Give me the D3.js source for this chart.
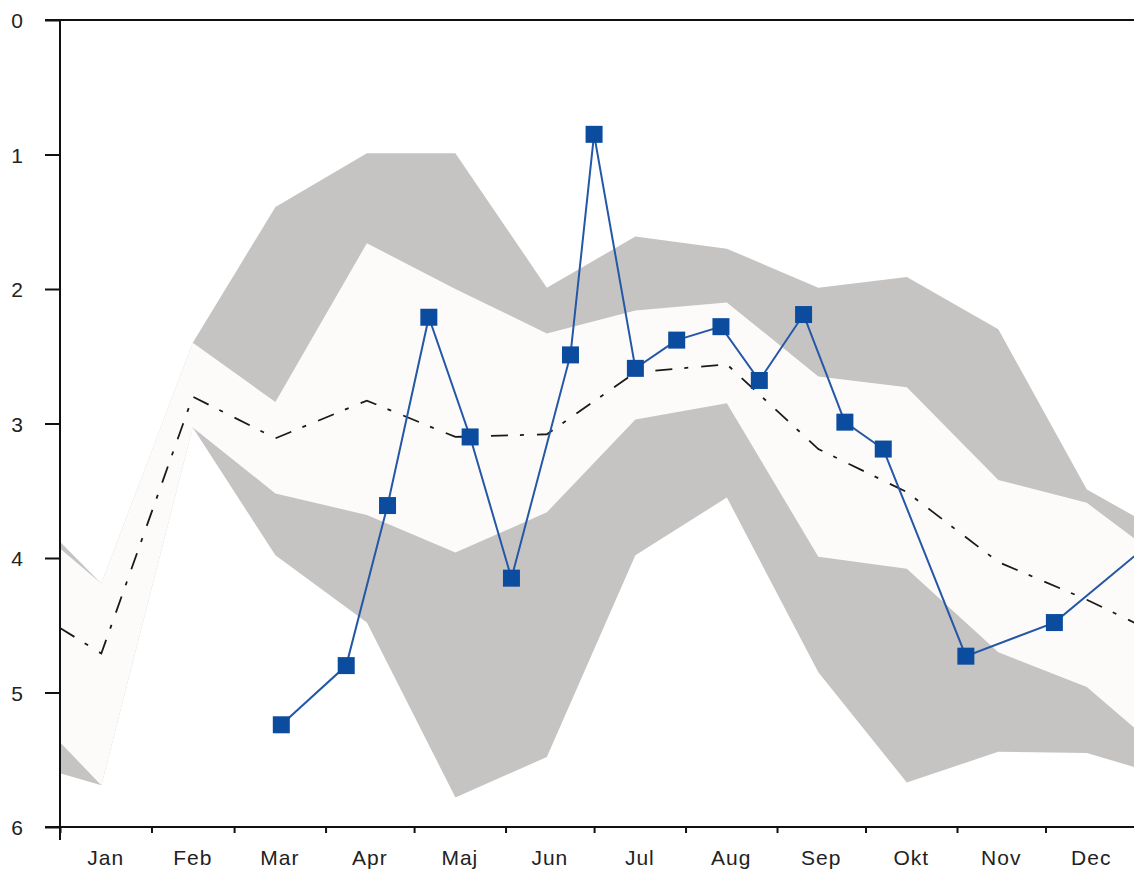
<!DOCTYPE html>
<html>
<head>
<meta charset="utf-8">
<script src="https://cdn.jsdelivr.net/npm/d3@7"></script>
<style>
  html, body { margin: 0; padding: 0; background: #ffffff; }
  svg { display: block; }
  text { font-family: "Liberation Sans", Arial, sans-serif; }
</style>
</head>
<body>
<svg id="chart" width="1134" height="871"></svg>
<script>
// Month labels (Swedish/Danish abbreviations)
const monthLabels = ["Jan", "Feb", "Mar", "Apr", "Maj", "Jun", "Jul", "Aug", "Sep", "Okt", "Nov", "Dec"];
const yTicks = [0, 1, 2, 3, 4, 5, 6];

// Reference statistics per mid-month, plus the values at the year's edges
const bandDates = ["2001-01-01", "2001-01-15", "2001-02-15", "2001-03-15", "2001-04-15", "2001-05-15",
                   "2001-06-15", "2001-07-15", "2001-08-15", "2001-09-15", "2001-10-15", "2001-11-15",
                   "2001-12-15", "2002-01-01"];
const outerUpper = [3.88, 4.19, 2.40, 1.39, 0.99, 0.99, 1.99, 1.61, 1.70, 1.99, 1.91, 2.30, 3.49, 3.70];
const innerUpper = [3.93, 4.19, 2.40, 2.84, 1.66, 2.00, 2.33, 2.16, 2.10, 2.65, 2.73, 3.42, 3.59, 3.87];
const median     = [4.52, 4.71, 2.80, 3.11, 2.83, 3.10, 3.08, 2.62, 2.56, 3.19, 3.51, 4.03, 4.31, 4.49];
const innerLower = [5.37, 5.69, 3.03, 3.52, 3.68, 3.96, 3.66, 2.97, 2.85, 3.99, 4.08, 4.70, 4.96, 5.28];
const outerLower = [5.60, 5.69, 3.03, 3.98, 4.48, 5.78, 5.48, 3.98, 3.55, 4.85, 5.67, 5.44, 5.45, 5.56];

// Observations of the current year
const obsDates = ["2001-03-17", "2001-04-08", "2001-04-22", "2001-05-06", "2001-05-20", "2001-06-03",
                  "2001-06-23", "2001-07-01", "2001-07-15", "2001-07-29", "2001-08-13", "2001-08-26",
                  "2001-09-10", "2001-09-24", "2001-10-07", "2001-11-04", "2001-12-04", "2002-01-06"];
const obsValues = [5.24, 4.80, 3.61, 2.21, 3.10, 4.15, 2.49, 0.85, 2.59, 2.38, 2.28, 2.68,
                   2.19, 2.99, 3.19, 4.73, 4.48, 3.88];

const parse = d3.utcParse("%Y-%m-%d");
const band = bandDates.map((d, i) => ({
  date: parse(d), oU: outerUpper[i], iU: innerUpper[i], med: median[i], iL: innerLower[i], oL: outerLower[i]
}));
const obs = obsDates.map((d, i) => ({ date: parse(d), v: obsValues[i] }));

const plotLeft = 60, plotRight = 1137, plotTop = 20, plotBottom = 827;
const x = d3.scaleUtc().domain([parse("2001-01-01"), parse("2002-01-01")]).range([plotLeft, plotRight]);
const y = d3.scaleLinear().domain([0, 6]).range([plotTop, plotBottom]);

const svg = d3.select("#chart");

svg.append("defs").append("clipPath").attr("id", "plot")
  .append("rect").attr("x", plotLeft).attr("y", plotTop)
  .attr("width", plotRight - plotLeft).attr("height", plotBottom - plotTop);

const plot = svg.append("g").attr("clip-path", "url(#plot)");

// Outer range band
plot.append("path")
  .datum(band)
  .attr("fill", "#c6c4c3")
  .attr("d", d3.area().x(d => x(d.date)).y0(d => y(d.oL)).y1(d => y(d.oU)));

// Inner range band
plot.append("path")
  .datum(band)
  .attr("fill", "#fcfbfa")
  .attr("d", d3.area().x(d => x(d.date)).y0(d => y(d.iL)).y1(d => y(d.iU)));

// Median (dash-dot)
plot.append("path")
  .datum(band)
  .attr("fill", "none")
  .attr("stroke", "#1a1a1a")
  .attr("stroke-width", 1.8)
  .attr("stroke-dasharray", "17,12,4,13")
  .attr("d", d3.line().x(d => x(d.date)).y(d => y(d.med)));

// Axes
const yAxis = d3.axisLeft(y).tickValues(yTicks).tickSize(15).tickPadding(22).tickFormat(d3.format("d"));
const gy = svg.append("g").attr("transform", `translate(${plotLeft},0)`).call(yAxis);
gy.select(".domain").remove();
gy.selectAll(".tick line").attr("stroke", "#111").attr("stroke-width", 2);
gy.selectAll(".tick text").attr("font-size", 21).attr("fill", "#222").attr("dy", "0.36em");

const xAxis = d3.axisBottom(x).ticks(d3.utcMonth.every(1)).tickSize(6).tickFormat("");
const gx = svg.append("g").attr("transform", `translate(0,${plotBottom})`).call(xAxis);
gx.select(".domain").remove();
gx.selectAll(".tick line").attr("stroke", "#111").attr("stroke-width", 2);

// Axis lines and top frame
svg.append("line").attr("x1", plotLeft - 15).attr("x2", 1134).attr("y1", plotBottom).attr("y2", plotBottom)
  .attr("stroke", "#111").attr("stroke-width", 2);
svg.append("line").attr("x1", plotLeft - 15).attr("x2", 1134).attr("y1", plotTop).attr("y2", plotTop)
  .attr("stroke", "#111").attr("stroke-width", 2);
svg.append("line").attr("x1", plotLeft).attr("x2", plotLeft).attr("y1", plotTop).attr("y2", plotBottom + 13)
  .attr("stroke", "#111").attr("stroke-width", 2);

// Month labels centred within each month
const months = d3.utcMonth.range(parse("2001-01-01"), parse("2002-01-01"));
svg.append("g").selectAll("text")
  .data(months)
  .join("text")
  .attr("x", d => (x(d) + x(d3.utcMonth.offset(d, 1))) / 2)
  .attr("y", 865)
  .attr("text-anchor", "middle")
  .attr("font-size", 21)
  .attr("letter-spacing", 1)
  .attr("fill", "#222")
  .text((d, i) => monthLabels[i]);

// Observation line and square markers
const obsG = svg.append("g").attr("clip-path", "url(#plot)");
obsG.append("path")
  .datum(obs)
  .attr("fill", "none")
  .attr("stroke", "#2457a6")
  .attr("stroke-width", 2)
  .attr("d", d3.line().x(d => x(d.date)).y(d => y(d.v)));

const ms = 17;
obsG.selectAll("rect.marker")
  .data(obs)
  .join("rect")
  .attr("class", "marker")
  .attr("x", d => x(d.date) - ms / 2)
  .attr("y", d => y(d.v) - ms / 2)
  .attr("width", ms)
  .attr("height", ms)
  .attr("fill", "#0b4c9f");
</script>
</body>
</html>
